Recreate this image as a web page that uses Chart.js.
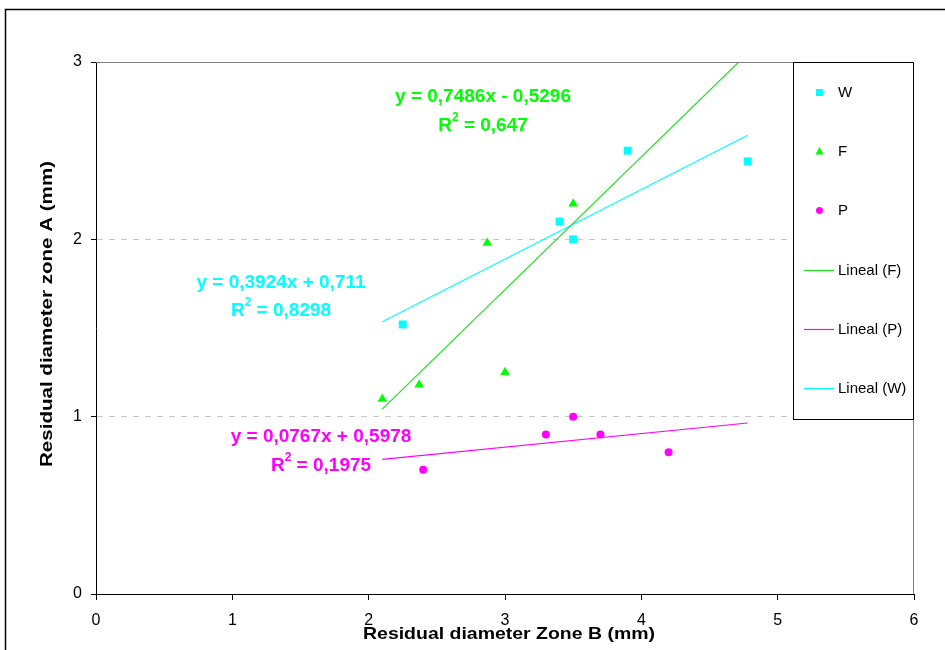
<!DOCTYPE html>
<html>
<head>
<meta charset="utf-8">
<script src="https://cdn.jsdelivr.net/npm/chart.js@4.4.0/dist/chart.umd.min.js"></script>
<style>
  html, body { margin: 0; padding: 0; background: #fff; }
  #wrap { width: 945px; height: 650px; position: relative; }
</style>
</head>
<body>
<div id="wrap"><canvas id="chart" width="945" height="650"></canvas></div>
<script>
// data
const wX = [2.25, 3.4, 3.5, 3.9, 4.78];
const wY = [1.52, 2.1, 2.0, 2.5, 2.44];
const fX = [2.1, 2.37, 2.87, 3.0, 3.5];
const fY = [1.1, 1.18, 1.98, 1.25, 2.2];
const pX = [2.4, 3.3, 3.5, 3.7, 4.2];
const pY = [0.7, 0.9, 1.0, 0.9, 0.8];

// linear trend lines (as shown on the chart)
const trendNames = ["F", "P", "W"];
const trendSlope = [0.7486, 0.0767, 0.3924];
const trendIntercept = [-0.5296, 0.5978, 0.711];
const trendR2 = ["0,647", "0,1975", "0,8298"];
const trendXRange = [2.1, 4.78];

const xTicks = [0, 1, 2, 3, 4, 5, 6];
const yTicks = [0, 1, 2, 3];

const CYAN = "#00ffff";
const GREEN = "#00ff00";
const GREEN_LINE = "#22dd22";
const MAGENTA = "#ff00ff";

const pts = (xs, ys) => xs.map((x, i) => ({ x: x, y: ys[i] }));
const trendPts = (i) => trendXRange.map(x => ({ x: x, y: trendSlope[i] * x + trendIntercept[i] }));

const FONT = "Liberation Sans, Arial, sans-serif";
const tickFont = { family: FONT, size: 16 };

// text squeezed/stretched to a given width
function fitText(ctx, text, x, y, width) {
  const w = ctx.measureText(text).width;
  ctx.save();
  ctx.translate(x, y);
  ctx.scale(width / w, 1);
  ctx.textAlign = "center";
  ctx.fillText(text, 0, 0);
  ctx.restore();
}

// frame, plot border, legend box, equations, axis titles
const decor = {
  id: "decor",
  beforeDraw(chart) {
    const ctx = chart.ctx;
    ctx.save();
    ctx.fillStyle = "#fff";
    ctx.fillRect(0, 0, chart.width, chart.height);
    ctx.strokeStyle = "#000";
    ctx.lineWidth = 1.5;
    ctx.beginPath();
    ctx.moveTo(5.5, 700);
    ctx.lineTo(5.5, 9.5);
    ctx.lineTo(1000, 9.5);
    ctx.stroke();
    ctx.restore();
  },
  afterDatasetsDraw(chart) {
    const ctx = chart.ctx;
    const a = chart.chartArea;
    ctx.save();
    // top + right gray border
    ctx.strokeStyle = "#808080";
    ctx.lineWidth = 1;
    ctx.beginPath();
    ctx.moveTo(a.left, a.top + 0.5);
    ctx.lineTo(a.right - 0.5, a.top + 0.5);
    ctx.lineTo(a.right - 0.5, a.bottom);
    ctx.stroke();

    // legend box
    const lx = 793.5, ly = a.top + 0.5, lw = a.right - 0.5 - lx, lh = 419 - a.top;
    ctx.fillStyle = "#fff";
    ctx.fillRect(lx, ly, lw, lh);
    ctx.strokeStyle = "#000";
    ctx.strokeRect(lx, ly, lw, lh);

    ctx.font = "15px " + FONT;
    ctx.textBaseline = "middle";
    ctx.textAlign = "left";
    const rows = [92, 151, 210, 270, 329, 388];
    // markers
    ctx.fillStyle = CYAN;
    ctx.fillRect(816, rows[0] - 3, 7, 7);
    ctx.fillStyle = GREEN;
    ctx.beginPath();
    ctx.moveTo(819.5, rows[1] - 4);
    ctx.lineTo(823.5, rows[1] + 3.5);
    ctx.lineTo(815.5, rows[1] + 3.5);
    ctx.closePath();
    ctx.fill();
    ctx.fillStyle = MAGENTA;
    ctx.beginPath();
    ctx.arc(819.5, rows[2] + 0.5, 3.5, 0, Math.PI * 2);
    ctx.fill();
    const lineCols = [GREEN_LINE, MAGENTA, CYAN];
    ctx.lineWidth = 1.2;
    for (let i = 0; i < 3; i++) {
      ctx.strokeStyle = lineCols[i];
      ctx.beginPath();
      ctx.moveTo(804, rows[3 + i] + 0.5);
      ctx.lineTo(834, rows[3 + i] + 0.5);
      ctx.stroke();
    }
    ctx.fillStyle = "#000";
    const labels = ["W", "F", "P", "Lineal (F)", "Lineal (P)", "Lineal (W)"];
    labels.forEach((t, i) => ctx.fillText(t, 838, rows[i] + 1));

    // equations
    const eqCols = [GREEN, MAGENTA, CYAN];
    const eqPos = [[483, 97, 126], [321, 437, 466], [281, 283, 311]];
    const big = "bold 19px " + FONT;
    const small = "bold 12px " + FONT;
    for (let i = 0; i < 3; i++) {
      const s = trendSlope[i].toFixed(4).replace(".", ",");
      const b = trendIntercept[i];
      const bs = Math.abs(b).toString().replace(".", ",");
      const eq = "y = " + s + "x " + (b < 0 ? "- " : "+ ") + bs;
      ctx.fillStyle = eqCols[i];
      ctx.font = big;
      ctx.textAlign = "center";
      ctx.fillText(eq, eqPos[i][0], eqPos[i][1]);
      // R² line
      ctx.font = big;
      const w1 = ctx.measureText("R").width;
      const w3 = ctx.measureText(" = " + trendR2[i]).width;
      ctx.font = small;
      const w2 = ctx.measureText("2").width;
      const x0 = eqPos[i][0] - (w1 + w2 + w3) / 2;
      const y0 = eqPos[i][2];
      ctx.textAlign = "left";
      ctx.font = big;
      ctx.fillText("R", x0, y0);
      ctx.font = small;
      ctx.fillText("2", x0 + w1, y0 - 8);
      ctx.font = big;
      ctx.fillText(" = " + trendR2[i], x0 + w1 + w2, y0);
    }

    // axis titles
    ctx.fillStyle = "#000";
    ctx.font = "bold 17px " + FONT;
    fitText(ctx, "Residual diameter Zone B (mm)", 509, 634, 292);
    ctx.translate(47, 314);
    ctx.rotate(-Math.PI / 2);
    fitText(ctx, "Residual diameter zone A (mm)", 0, 0, 306);
    ctx.restore();
  }
};

new Chart(document.getElementById("chart"), {
  type: "scatter",
  data: {
    datasets: [
      { label: "W", data: pts(wX, wY), pointStyle: "rect", pointRadius: 5.6, backgroundColor: CYAN, borderColor: CYAN, borderWidth: 0 },
      { label: "F", data: pts(fX, fY), pointStyle: "triangle", pointRadius: 5.5, backgroundColor: GREEN, borderColor: GREEN, borderWidth: 0 },
      { label: "P", data: pts(pX, pY), pointStyle: "circle", pointRadius: 4, backgroundColor: MAGENTA, borderColor: MAGENTA, borderWidth: 0 },
      { label: "Lineal (F)", data: trendPts(0), showLine: true, pointRadius: 0, borderColor: GREEN_LINE, borderWidth: 1.2 },
      { label: "Lineal (P)", data: trendPts(1), showLine: true, pointRadius: 0, borderColor: MAGENTA, borderWidth: 1.2 },
      { label: "Lineal (W)", data: trendPts(2), showLine: true, pointRadius: 0, borderColor: CYAN, borderWidth: 1.2 }
    ]
  },
  options: {
    responsive: false,
    animation: false,
    layout: { padding: { top: 62, right: 31, left: 0, bottom: 0 } },
    plugins: { legend: { display: false }, tooltip: { enabled: false } },
    scales: {
      x: {
        type: "linear",
        min: 0,
        max: 6,
        afterBuildTicks: (s) => { s.ticks = xTicks.map(v => ({ value: v })); },
        afterFit: (s) => { s.height = 56; },
        ticks: { color: "#000", font: tickFont, padding: 11 },
        grid: { drawOnChartArea: false, tickLength: 6, tickColor: "#000" },
        border: { color: "#000", width: 1 }
      },
      y: {
        type: "linear",
        min: 0,
        max: 3,
        afterBuildTicks: (s) => { s.ticks = yTicks.map(v => ({ value: v })); },
        afterFit: (s) => { s.width = 96; },
        ticks: { color: "#000", font: tickFont, padding: 9 },
        grid: {
          color: (c) => (c.tick && (c.tick.value === 1 || c.tick.value === 2)) ? "#c8c8c8" : "rgba(0,0,0,0)",
          tickLength: 5,
          tickColor: "#000",
          tickBorderDash: []
        },
        border: { color: "#000", width: 1, dash: [6, 6] }
      }
    }
  },
  plugins: [decor]
});
</script>
</body>
</html>
